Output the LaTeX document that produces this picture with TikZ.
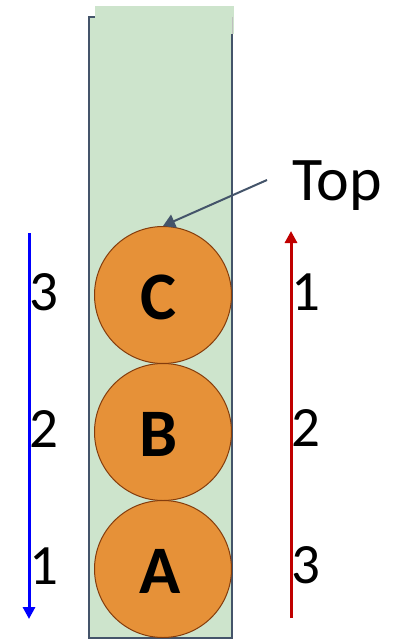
\documentclass[tikz,border=0pt]{standalone}
\usepackage{fontspec}
\setmainfont{Carlito}
\usetikzlibrary{arrows.meta}
\definecolor{tubegreen}{RGB}{205,228,204}
\definecolor{tubeslate}{RGB}{68,84,106}
\definecolor{ballfill}{RGB}{230,145,56}
\definecolor{ballline}{RGB}{132,60,12}
\definecolor{popred}{RGB}{192,0,0}
\tikzset{
  tubeline/.style={draw=tubeslate,line width=1.5pt},
  ball/.style={circle,draw=ballline,fill=ballfill,line width=1pt,
    minimum size=137pt,inner sep=0pt},
  balltext/.style={font=\fontsize{68}{72}\selectfont\bfseries,inner sep=0pt},
  numfont/.style={font=\fontsize{57}{60}\selectfont,inner sep=0pt},
}
\begin{document}
\begin{tikzpicture}[x=1pt,y=-1pt]
  \useasboundingbox (0,0) rectangle (392,640);
  % tube
  \draw[tubeline,fill=tubegreen] (89,17) rectangle (232,638);
  \fill[tubegreen] (95,6) rectangle (233.5,34);
  \draw[gray!50,line width=1pt] (232.5,17) -- (232.5,34);
  % balls
  \node[ball] (ballC) at (163,295) {};
  \node[ball] (ballB) at (163,432) {};
  \node[ball] (ballA) at (163,569) {};
  \node[balltext] (labC) at (158,297) {C};
  \node[balltext] (labB) at (159,434) {B};
  \node[balltext] (labA) at (160,571) {A};
  % top label
  \node[font=\fontsize{62}{66}\selectfont,inner sep=0pt] (top) at (337,186) {Top};
  \coordinate (topfrom) at (267,180);
  \draw[tubeslate,line width=2pt,-{Triangle[length=12pt,width=14pt]}] (topfrom) -- (ballC.north);
  % push order
  \coordinate (bluetop) at (29,233);
  \coordinate (bluebot) at (29,619);
  \draw[blue,line width=3pt,-{Triangle[length=12pt,width=12pt]}] (bluetop) -- (bluebot);
  \node[numfont] (lnum3) at (44,292) {3};
  \node[numfont] (lnum2) at (44,429) {2};
  \node[numfont] (lnum1) at (44,566) {1};
  % pop order
  \coordinate (redbot) at (291,618);
  \coordinate (redtop) at (291,231);
  \draw[popred,line width=3pt,-{Triangle[length=12pt,width=12pt]}] (redbot) -- (redtop);
  \node[numfont] (rnum1) at (306,292) {1};
  \node[numfont] (rnum2) at (306,428) {2};
  \node[numfont] (rnum3) at (306,565) {3};
\end{tikzpicture}
\end{document}
